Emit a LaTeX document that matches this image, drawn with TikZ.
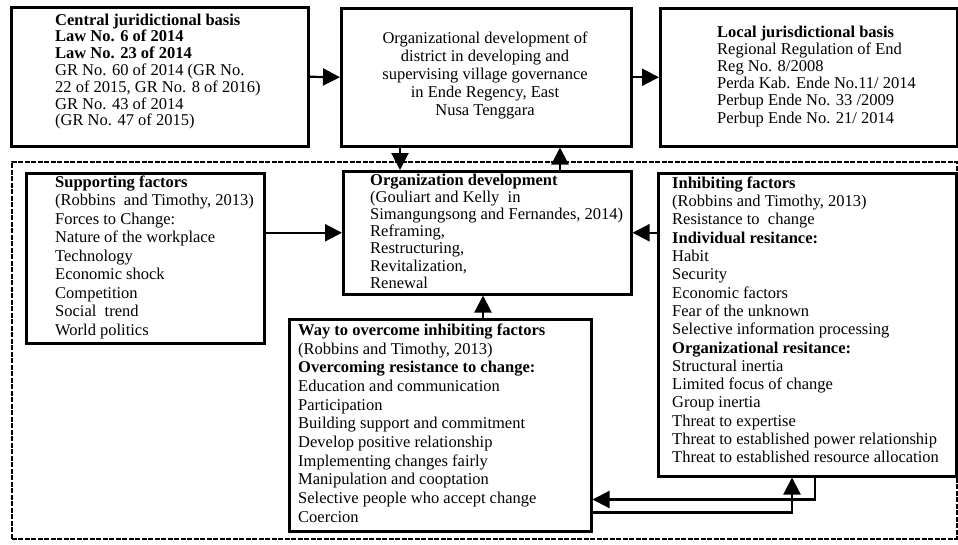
\documentclass[tikz,border=0pt]{standalone}
\usepackage{fontspec}
\setmainfont{Liberation Serif}
\usetikzlibrary{arrows.meta}
\tikzset{
  boxnode/.style={draw, line width=2.5pt, rectangle, inner sep=0pt, anchor=north west},
  txt/.style={inner sep=0pt, anchor=north west, align=left},
  arr/.style={line width=2.2pt, -{Triangle[length=17pt,width=17pt]}},
}
\newcommand{\fs}[1]{\fontsize{16.5}{#1}\selectfont}
\begin{document}
\begin{tikzpicture}[x=1pt,y=-1pt]
\useasboundingbox (0,0) rectangle (958,544);
% dashed frame
\node[draw, dash pattern=on 5pt off 1.5pt, line width=1.7pt, inner sep=0pt, anchor=north west,
      minimum width=945pt, minimum height=377pt] (frame) at (11,161) {};
% boxes
\node[boxnode, minimum width=297pt, minimum height=139pt] (b1) at (10,6) {};
\node[boxnode, minimum width=290pt, minimum height=138pt] (b2) at (340,7) {};
\node[boxnode, minimum width=297pt, minimum height=138pt] (b3) at (659,7) {};
\node[boxnode, minimum width=238pt, minimum height=170pt] (b4) at (25,172) {};
\node[boxnode, minimum width=288pt, minimum height=123pt] (b5) at (342,170) {};
\node[boxnode, minimum width=298pt, minimum height=303pt] (b6) at (657,172) {};
\node[boxnode, minimum width=302pt, minimum height=212pt] (b7) at (288,318) {};
% texts
\node[txt, font=\fs{16.8}] (t1) at (55,13.5) {\textbf{Central juridictional basis}\\
\textbf{Law No. 6 of 2014}\\
\textbf{Law No. 23 of 2014}\\
GR No. 60 of 2014 (GR No.\\
22 of 2015, GR No. 8 of 2016)\\
GR No. 43 of 2014\\
(GR No. 47 of 2015)};
\node[inner sep=0pt, anchor=north, align=center, font=\fs{18}] (t2) at (485,31.5) {Organizational development of\\
district in developing and\\
supervising village governance\\
in Ende Regency, East\\
Nusa Tenggara};
\node[txt, font=\fs{17.2}] (t3) at (717,25.5) {\textbf{Local jurisdictional basis}\\
Regional Regulation of End\\
Reg No. 8/2008\\
Perda Kab. Ende No.11/ 2014\\
Perbup Ende No. 33 /2009\\
Perbup Ende No. 21/ 2014};
\node[txt, font=\fs{18.5}] (t4) at (55,175.5) {\textbf{Supporting factors}\\
(Robbins\ \ and Timothy, 2013)\\
Forces to Change:\\
Nature of the workplace\\
Technology\\
Economic shock\\
Competition\\
Social\ \ trend\\
World politics};
\node[txt, font=\fs{17.2}] (t5) at (370,173.5) {\textbf{Organization development}\\
(Gouliart and Kelly\ \ in\\
Simangungsong and Fernandes, 2014)\\
Reframing,\\
Restructuring,\\
Revitalization,\\
Renewal};
\node[txt, font=\fs{18.3}] (t6) at (672,176.5) {\textbf{Inhibiting factors}\\
(Robbins and Timothy, 2013)\\
Resistance to\ \ change\\
\textbf{Individual resitance:}\\
Habit\\
Security\\
Economic factors\\
Fear of the unknown\\
Selective information processing\\
\textbf{Organizational resitance:}\\
Structural inertia\\
Limited focus of change\\
Group inertia\\
Threat to expertise\\
Threat to established power relationship\\
Threat to established resource allocation};
\node[txt, font=\fs{18.7}] (t7) at (298,323.5) {\textbf{Way to overcome inhibiting factors}\\
(Robbins and Timothy, 2013)\\
\textbf{Overcoming resistance to change:}\\
Education and communication\\
Participation\\
Building support and commitment\\
Develop positive relationship\\
Implementing changes fairly\\
Manipulation and cooptation\\
Selective people who accept change\\
Coercion};
% connectors
\draw[arr] (b1.east) -- (b2.west);
\draw[arr] (b2.east) -- (b3.west);
\draw[arr] ([xshift=60pt]b2.south west) -- ([xshift=58pt]b5.north west);
\draw[arr] ([xshift=218pt]b5.north west) -- ([xshift=220pt]b2.south west);
\draw[arr] (b4.east |- b5.west) -- (b5.west);
\draw[arr] (b6.west |- b5.east) -- (b5.east);
\coordinate (w1) at ([xshift=195pt]b7.north west);
\draw[arr] (w1) -- (w1 |- b5.south);
\draw[arr] ([xshift=158pt]b6.south west) |- ([yshift=33pt]b7.south east);
\draw[arr] ([yshift=20pt]b7.south east) -| ([xshift=135pt]b6.south west);
\end{tikzpicture}
\end{document}
